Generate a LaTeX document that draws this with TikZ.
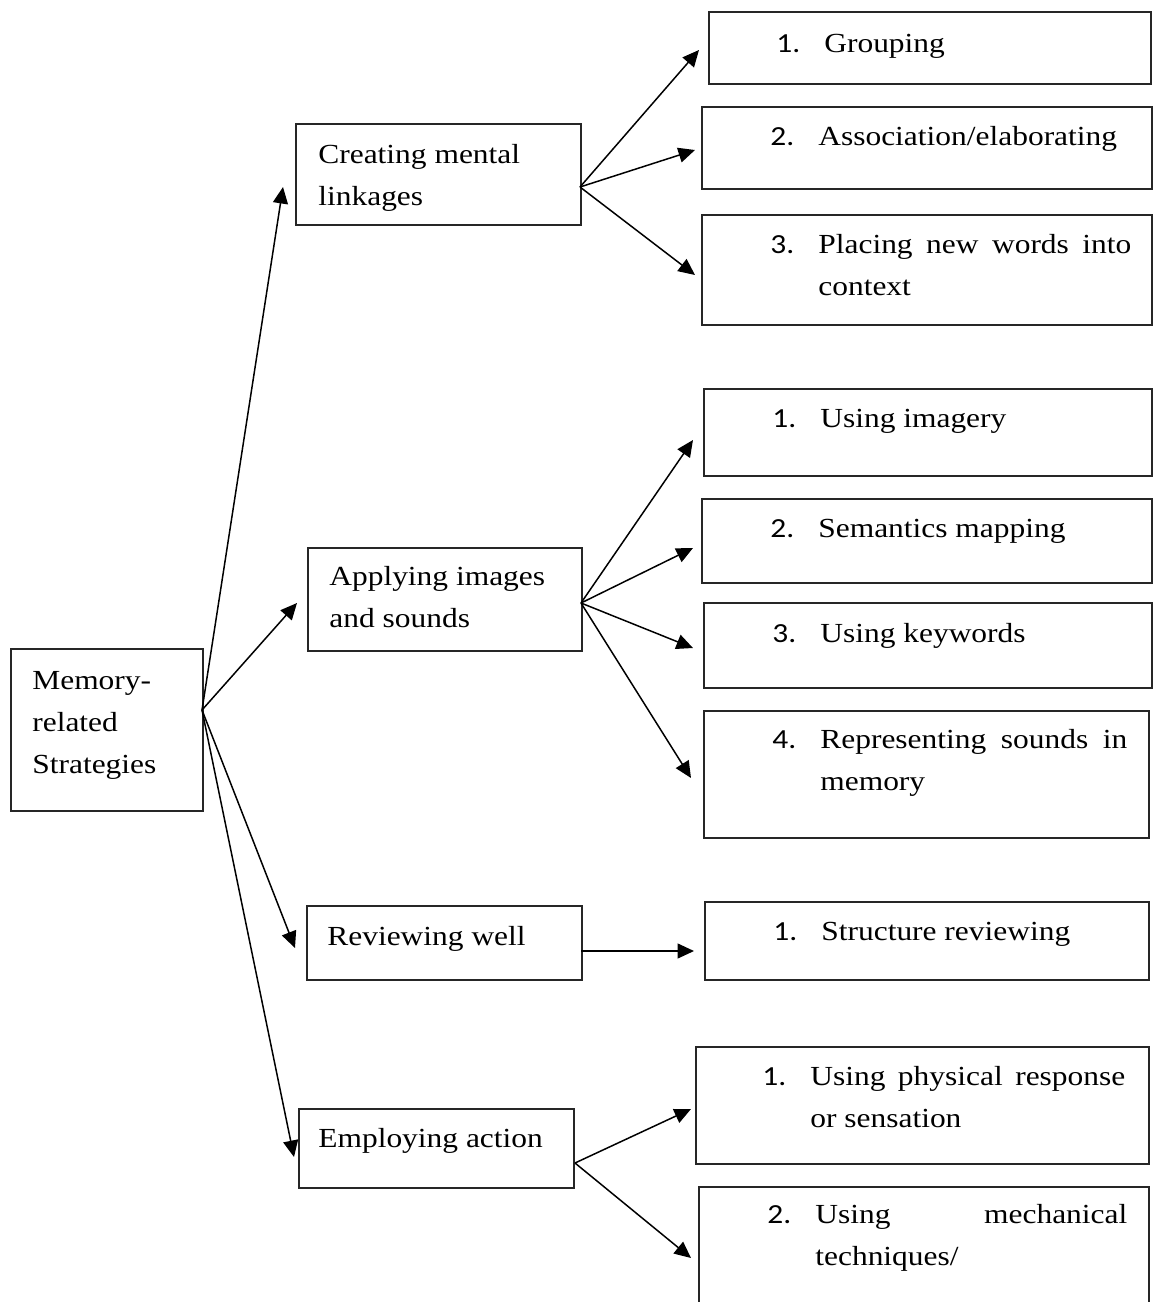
\documentclass[tikz,border=0pt]{standalone}
\usepackage{fontspec}
\setmainfont{Liberation Serif}[FakeStretch=1.14]
\newfontfamily\msnumfont{Carlito}[FakeStretch=1.14]
\usepackage{tikz}
\usetikzlibrary{arrows.meta}
\newcommand{\msitem}[3]{\makebox[9.6mm][l]{\msnumfont #1.}\parbox[t]{#2}{#3}}
\newcommand{\mslines}[2]{\parbox[t]{#1}{\raggedright #2}}
\tikzset{
  ms diagram/.style={x=0.2mm, y=-0.2mm, font=\fontsize{15.7}{23.9}\selectfont,
    line join=miter},
  ms box/.style={draw=black!85, line width=0.9pt, anchor=north west,
    inner sep=0pt},
  ms text/.style={anchor=base west, inner sep=0pt},
  ms arrow/.style={-{Triangle[length=3.3mm,width=3mm]}, line width=0.85pt}
}

\begin{document}
\begin{tikzpicture}[ms diagram]
\useasboundingbox (0,0) rectangle (1154,1302);
\clip (0,0) rectangle (1154,1302);
\node[ms box,minimum width=38.4mm,minimum height=32.4mm] (root) at (10,648) {};
\node[ms text] (roottext) at (32,689) {\mslines{32mm}{Memory-\\related\\Strategies}};

\node[ms box,minimum width=57mm,minimum height=20.2mm] (cre) at (295,123) {};
\node[ms text] (cretext) at (318,163) {\mslines{50mm}{Creating mental\\linkages}};
\node[ms box,minimum width=54.8mm,minimum height=20.6mm] (app) at (307,547) {};
\node[ms text] (apptext) at (329,585) {\mslines{48mm}{Applying images\\and sounds}};
\node[ms box,minimum width=55mm,minimum height=14.8mm] (rev) at (306,905) {};
\node[ms text] (revtext) at (327,945) {Reviewing well};
\node[ms box,minimum width=55mm,minimum height=15.8mm] (emp) at (298,1108) {};
\node[ms text] (emptext) at (318,1147) {Employing action};

\node[ms box,minimum width=88.4mm,minimum height=14.4mm] (grp) at (708,11) {};
\node[ms text] (grptext) at (776,52) {\msitem{1}{62mm}{Grouping}};
\node[ms box,minimum width=90mm,minimum height=16.4mm] (asc) at (701,106) {};
\node[ms text] (asctext) at (770,145) {\msitem{2}{64mm}{Association/elaborating}};
\node[ms box,minimum width=90mm,minimum height=22mm] (plc) at (701,214) {};
\node[ms text] (plctext) at (770,253) {\msitem{3}{62.6mm}{Placing new words into\linebreak context}};

\node[ms box,minimum width=89.6mm,minimum height=17.4mm] (img) at (703,388) {};
\node[ms text] (imgtext) at (772,427) {\msitem{1}{64mm}{Using imagery}};
\node[ms box,minimum width=90mm,minimum height=16.8mm] (sem) at (701,498) {};
\node[ms text] (semtext) at (770,537) {\msitem{2}{64mm}{Semantics mapping}};
\node[ms box,minimum width=89.6mm,minimum height=17mm] (key) at (703,602) {};
\node[ms text] (keytext) at (772,642) {\msitem{3}{64mm}{Using keywords}};
\node[ms box,minimum width=89mm,minimum height=25.4mm] (rep) at (703,710) {};
\node[ms text] (reptext) at (772,748) {\msitem{4}{61.4mm}{Representing sounds in\linebreak memory}};

\node[ms box,minimum width=88.8mm,minimum height=15.6mm] (str) at (704,901) {};
\node[ms text] (strtext) at (773,940) {\msitem{1}{64mm}{Structure reviewing}};

\node[ms box,minimum width=90.6mm,minimum height=23.4mm] (phy) at (695,1046) {};
\node[ms text] (phytext) at (762,1085) {\msitem{1}{63mm}{Using physical response\linebreak or sensation}};
\node[ms box,minimum width=90mm,minimum height=26mm] (mec) at (698,1186) {};
\node[ms text] (mectext) at (767,1223) {\msitem{2}{62.4mm}{Using mechanical\linebreak techniques/}};

\coordinate (rootfan) at (202,710);
\coordinate (crein) at (283,187);
\coordinate (appin) at (297,603);
\coordinate (revin) at (295,948);
\coordinate (empin) at (294,1157);
\coordinate (crefan) at (580,187);
\coordinate (grpin) at (699,50);
\coordinate (ascin) at (695,150);
\coordinate (plcin) at (695,275);
\coordinate (appfan) at (581,603);
\coordinate (imgin) at (693,440);
\coordinate (semin) at (693,548);
\coordinate (keyin) at (693,648);
\coordinate (repin) at (691,778);
\coordinate (revout) at (581,951);
\coordinate (strin) at (694,951);
\coordinate (empfan) at (575,1163);
\coordinate (phyin) at (691,1109);
\coordinate (mecin) at (691,1258);

\draw[ms arrow] (rootfan) -- (crein);
\draw[ms arrow] (rootfan) -- (appin);
\draw[ms arrow] (rootfan) -- (revin);
\draw[ms arrow] (rootfan) -- (empin);
\draw[ms arrow] (crefan) -- (grpin);
\draw[ms arrow] (crefan) -- (ascin);
\draw[ms arrow] (crefan) -- (plcin);
\draw[ms arrow] (appfan) -- (imgin);
\draw[ms arrow] (appfan) -- (semin);
\draw[ms arrow] (appfan) -- (keyin);
\draw[ms arrow] (appfan) -- (repin);
\draw[ms arrow] (revout) -- (strin);
\draw[ms arrow] (empfan) -- (phyin);
\draw[ms arrow] (empfan) -- (mecin);
\end{tikzpicture}
\end{document}
